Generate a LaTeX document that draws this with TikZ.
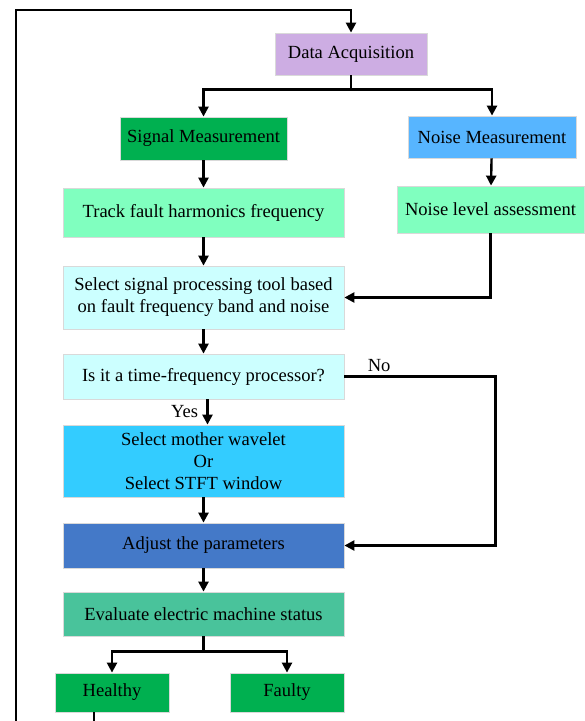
\documentclass[tikz,border=0pt]{standalone}
\usepackage{fontspec}
\setmainfont{Liberation Serif}
\usetikzlibrary{arrows.meta}
\definecolor{lavender}{HTML}{CDADE3}
\definecolor{sgreen}{HTML}{00B050}
\definecolor{skyblue}{HTML}{57B5FF}
\definecolor{mint}{HTML}{80FFBF}
\definecolor{paleblue}{HTML}{CCFFFF}
\definecolor{cyanbox}{HTML}{33CCFF}
\definecolor{steel}{HTML}{4479C8}
\definecolor{jade}{HTML}{49C39B}
\begin{document}
\begin{tikzpicture}[x=1bp,y=-1bp,
  box/.style={draw=black!15,line width=.8pt,align=center,inner sep=0pt,font=\fontsize{18.6}{22}\selectfont},
  lbl/.style={font=\fontsize{18.6}{22}\selectfont},
  wire/.style={line width=2.4bp},
  arr/.style={wire,-{Triangle[length=10bp,width=10bp]}}]
\useasboundingbox (0,0) rectangle (585,721); \clip (0,0) rectangle (585,721);
\node[box,fill=lavender,minimum width=152bp,minimum height=42bp] (da) at (351,54) {Data Acquisition};
\node[box,fill=sgreen,minimum width=167bp,minimum height=43bp] (sm) at (203.5,138.5) {Signal Measurement};
\node[box,fill=skyblue,minimum width=168bp,minimum height=42bp] (nm) at (492,137) {Noise Measurement};
\node[box,fill=mint,minimum width=281bp,minimum height=49bp] (tr) at (203.5,212.5) {Track fault harmonics frequency};
\node[box,fill=mint,minimum width=187bp,minimum height=47bp] (nl) at (490.5,209.5) {Noise level assessment};
\node[box,fill=paleblue,minimum width=281bp,minimum height=63bp] (sel) at (203.5,297.5) {Select signal processing tool based\\on fault frequency band and noise};
\node[box,fill=paleblue,minimum width=281bp,minimum height=45bp] (tf) at (203.5,376.5) {Is it a time-frequency processor?};
\node[box,fill=cyanbox,minimum width=281bp,minimum height=72bp] (wv) at (203.5,461) {Select mother wavelet\\Or\\Select STFT window};
\node[box,fill=steel,minimum width=281bp,minimum height=45bp] (adj) at (203.5,545.5) {Adjust the parameters};
\node[box,fill=jade,minimum width=281bp,minimum height=44bp] (ev) at (203.5,614) {Evaluate electric machine status};
\node[box,fill=sgreen,minimum width=114bp,minimum height=39bp] (hl) at (112,692.5) {Healthy};
\node[box,fill=sgreen,minimum width=114bp,minimum height=39bp] (ft) at (287,692.5) {Faulty};
\coordinate (loopbot) at (94,740); \coordinate (looptop) at (16,10);
\draw[wire] (da.south) -- ++(0,14) coordinate (br1); \draw[arr] (br1) -| (sm.north); \draw[arr] (br1) -| (nm.north);
\draw[arr] (sm) -- (tr); \draw[arr] (nm) -- (nl); \draw[arr] (tr) -- (sel); \draw[arr] (nl.south) |- (sel.east);
\draw[arr] (sel) -- (tf);
\draw[arr] ([xshift=4bp]tf.south) -- ([xshift=4bp]wv.north) node[lbl,midway,left,xshift=-5bp] (yes) {Yes};
\draw[arr] (tf.east) -- ++(151,0) node[lbl,pos=.23,above] (no) {No} |- (adj.east);
\draw[arr] (wv) -- (adj); \draw[arr] (adj) -- (ev);
\draw[wire] (ev.south) -- ++(0,15) coordinate (br2); \draw[arr] (br2) -| (hl.north); \draw[arr] (br2) -| (ft.north);
\draw[arr] (hl.south -| loopbot) -- (loopbot) -| (looptop) -| (da.north);
\end{tikzpicture}
\end{document}
